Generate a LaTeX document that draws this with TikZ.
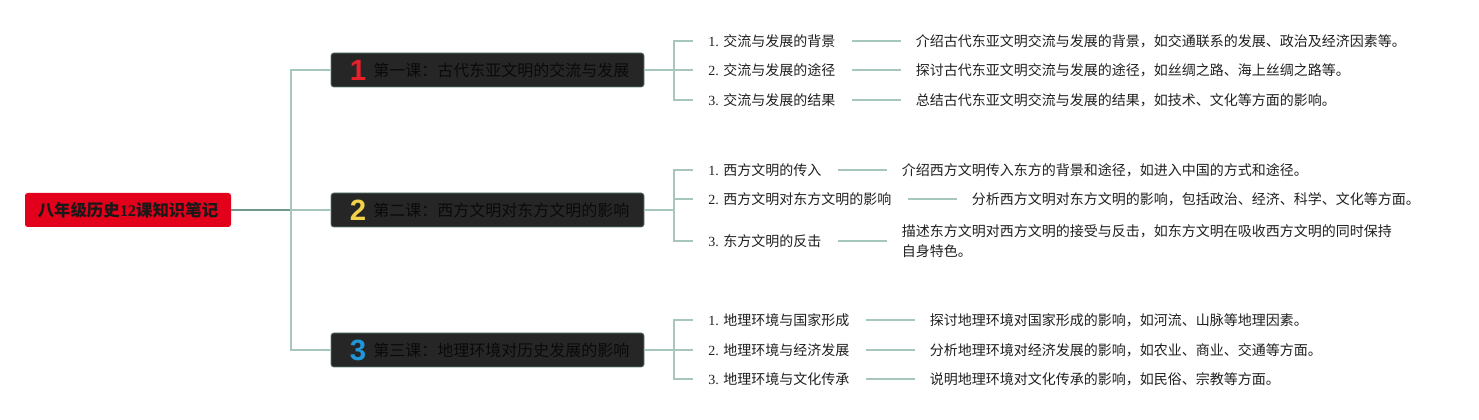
\documentclass[tikz,border=0pt]{standalone}
\usepackage{fontspec}
\setmainfont{Liberation Serif}
\newfontfamily\cjk{Noto Sans CJK SC}
\newfontfamily\numf{Liberation Sans}
\usetikzlibrary{calc,positioning}
\definecolor{rootred}{HTML}{E2001A}
\definecolor{boxfill}{HTML}{262626}
\definecolor{boxline}{HTML}{5E7F76}
\definecolor{darklink}{HTML}{6F978C}
\definecolor{lightlink}{HTML}{A7C7BE}
\definecolor{numred}{HTML}{E8202A}
\definecolor{numyellow}{HTML}{F2D24A}
\definecolor{numblue}{HTML}{2196D8}
\definecolor{ltxt}{HTML}{0A0A0A}
\definecolor{itxt}{HTML}{1F1F1F}
\tikzset{
  rootbox/.style={fill=rootred, rounded corners=2pt, minimum width=154.5pt, minimum height=25.5pt, inner sep=0pt,
    font=\fontsize{12.3pt}{14pt}\selectfont\bfseries, text=black!90},
  lessonbox/.style={fill=boxfill, draw=boxline, line width=0.6pt, rounded corners=2pt, minimum width=234.75pt, minimum height=25.5pt, inner sep=0pt},
  numtxt/.style={font=\numf\fontsize{22pt}{24pt}\selectfont\bfseries, inner sep=0pt},
  lessontxt/.style={anchor=west, font=\cjk\fontsize{12pt}{14pt}\selectfont, text=ltxt, inner sep=0pt},
  itemtxt/.style={anchor=west, font=\fontsize{10.5pt}{12pt}\selectfont, text=itxt, inner sep=0pt},
  desctxt/.style={font=\cjk\fontsize{10.5pt}{15pt}\selectfont, text=itxt, inner sep=0pt, align=left, right=60pt of #1},
  mainlink/.style={draw=darklink, line width=1.3pt},
  link/.style={draw=lightlink, line width=1.1pt},
}
\begin{document}
\begin{tikzpicture}[x=0.75pt,y=-0.75pt]
\useasboundingbox (0,0) rectangle (1479,420);
% root
\node[rootbox] (R) at (128,210) {{\cjk 八年级历史}12{\cjk 课知识笔记}};
\coordinate (J) at (291,210);
% lessons
\node[lessonbox] (L1) at (487.5,70) {};
\node[lessonbox] (L2) at (487.5,210) {};
\node[lessonbox] (L3) at (487.5,350) {};
\node[numtxt, text=numred] (n1) at (358,70) {1};
\node[numtxt, text=numyellow] (n2) at (358,210) {2};
\node[numtxt, text=numblue] (n3) at (358,350) {3};
\node[lessontxt] (t1) at (373,70) {第一课：古代东亚文明的交流与发展};
\node[lessontxt] (t2) at (373,210) {第二课：西方文明对东方文明的影响};
\node[lessontxt] (t3) at (373,350) {第三课：地理环境对历史发展的影响};
\draw[mainlink] (R.east) -- (J);
\draw[link] (J) |- (L1.west);
\draw[link] (J) -- (L2.west);
\draw[link] (J) |- (L3.west);
% junctions
\coordinate (j1) at (674,70);
\coordinate (j2) at (674,210);
\coordinate (j3) at (674,350);
\draw[link] (L1.east) -- (j1);
\draw[link] (L2.east) -- (j2);
\draw[link] (L3.east) -- (j3);
% group 1
\node[itemtxt] (a1) at (708,41) {1. {\cjk 交流与发展的背景}};
\node[itemtxt] (a2) at (708,70) {2. {\cjk 交流与发展的途径}};
\node[itemtxt] (a3) at (708,100) {3. {\cjk 交流与发展的结果}};
\node[desctxt=a1] (d1) {介绍古代东亚文明交流与发展的背景，如交通联系的发展、政治及经济因素等。};
\node[desctxt=a2] (d2) {探讨古代东亚文明交流与发展的途径，如丝绸之路、海上丝绸之路等。};
\node[desctxt=a3] (d3) {总结古代东亚文明交流与发展的结果，如技术、文化等方面的影响。};
% group 2
\node[itemtxt] (b1) at (708,170) {1. {\cjk 西方文明的传入}};
\node[itemtxt] (b2) at (708,199) {2. {\cjk 西方文明对东方文明的影响}};
\node[itemtxt] (b3) at (708,241) {3. {\cjk 东方文明的反击}};
\node[desctxt=b1] (e1) {介绍西方文明传入东方的背景和途径，如进入中国的方式和途径。};
\node[desctxt=b2] (e2) {分析西方文明对东方文明的影响，包括政治、经济、科学、文化等方面。};
\node[desctxt=b3] (e3) {描述东方文明对西方文明的接受与反击，如东方文明在吸收西方文明的同时保持\\自身特色。};
% group 3
\node[itemtxt] (c1) at (708,320) {1. {\cjk 地理环境与国家形成}};
\node[itemtxt] (c2) at (708,350) {2. {\cjk 地理环境与经济发展}};
\node[itemtxt] (c3) at (708,379) {3. {\cjk 地理环境与文化传承}};
\node[desctxt=c1] (f1) {探讨地理环境对国家形成的影响，如河流、山脉等地理因素。};
\node[desctxt=c2] (f2) {分析地理环境对经济发展的影响，如农业、商业、交通等方面。};
\node[desctxt=c3] (f3) {说明地理环境对文化传承的影响，如民俗、宗教等方面。};
% branches
\foreach \j/\n in {j1/a1,j1/a2,j1/a3,j2/b1,j2/b2,j2/b3,j3/c1,j3/c2,j3/c3}{
  \draw[link] (\j) |- ($(\n.west)+(-15,0)$);
}
\foreach \n/\d in {a1/d1,a2/d2,a3/d3,b1/e1,b2/e2,b3/e3,c1/f1,c2/f2,c3/f3}{
  \draw[link] ($(\n.east)+(16,0)$) -- ($(\d.west)+(-15,0)$);
}
\end{tikzpicture}
\end{document}
